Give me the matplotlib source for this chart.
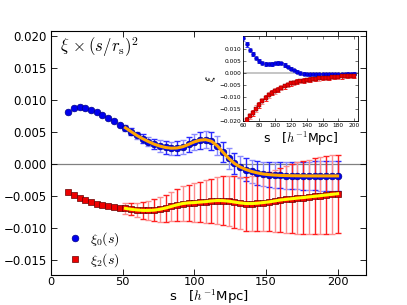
import numpy as np
import matplotlib
matplotlib.use("Agg")
import matplotlib.pyplot as plt
from matplotlib.ticker import FuncFormatter

plt.rcParams['mathtext.fontset'] = 'cm'
plt.rcParams['font.family'] = ['DejaVu Sans']

# ---------------- main panel data (units of 1e-3) ----------------
s = [12, 16, 20, 24, 28, 32, 36, 40, 44, 48, 52, 56, 60, 64, 68, 72, 76, 80, 84, 88,
     92, 96, 100, 104, 108, 112, 116, 120, 124, 128, 132, 136, 140, 144, 148, 152,
     156, 160, 164, 168, 172, 176, 180, 184, 188, 192, 196, 200]
xi0_s2 = [8.18, 8.70, 8.85, 8.75, 8.45, 8.07, 7.67, 7.20, 6.67, 6.16, 5.65, 5.05, 4.45,
          3.95, 3.50, 3.10, 2.80, 2.58, 2.47, 2.50, 2.70, 3.05, 3.45, 3.72, 3.80, 3.55,
          2.85, 1.85, 0.90, 0.10, -0.45, -0.85, -1.15, -1.38, -1.55, -1.65, -1.72,
          -1.77, -1.80, -1.82, -1.83, -1.84, -1.85, -1.85, -1.85, -1.85, -1.85, -1.85]
xi2_s2 = [-4.37, -4.88, -5.35, -5.66, -5.92, -6.18, -6.39, -6.55, -6.70, -6.80, -6.90,
          -7.05, -7.15, -7.22, -7.22, -7.18, -7.05, -6.85, -6.60, -6.35, -6.15, -6.05,
          -6.00, -5.92, -5.85, -5.75, -5.68, -5.70, -5.78, -5.92, -6.05, -6.15, -6.15,
          -6.10, -6.00, -5.90, -5.75, -5.60, -5.50, -5.40, -5.30, -5.22, -5.12, -5.02,
          -4.92, -4.82, -4.72, -4.62]
# error bars for s >= 52
err_s = [52, 56, 60, 64, 68, 72, 76, 80, 84, 88, 92, 96, 100, 104, 108, 112, 116, 120,
         124, 128, 132, 136, 140, 144, 148, 152, 156, 160, 164, 168, 172, 176, 180, 184,
         188, 192, 196, 200]
err0 = [0.45, 0.52, 0.60, 0.68, 0.75, 0.82, 0.90, 0.95, 1.00, 1.05, 1.10, 1.18, 1.25,
        1.30, 1.35, 1.40, 1.45, 1.52, 1.60, 1.65, 1.70, 1.75, 1.80, 1.85, 1.90, 1.95,
        2.00, 2.02, 2.05, 2.08, 2.10, 2.15, 2.20, 2.25, 2.30, 2.32, 2.35, 2.40]
err2 = [0.80, 0.95, 1.10, 1.30, 1.50, 1.70, 1.90, 2.10, 2.30, 2.50, 2.70, 2.85, 3.00,
        3.15, 3.30, 3.50, 3.65, 3.80, 3.90, 4.00, 4.10, 4.20, 4.30, 4.40, 4.50, 4.60,
        4.80, 5.00, 5.20, 5.40, 5.60, 5.70, 5.80, 5.90, 6.00, 6.00, 6.10, 6.10]

# ---------------- inset data ----------------
s_in = [60, 64, 68, 72, 76, 80, 84, 88, 92, 96, 100, 104, 108, 112, 116, 120, 124, 128,
        132, 136, 140, 144, 148, 152, 156, 160, 164, 168, 172, 176, 180, 184, 188, 192,
        196, 200]
xi0_in = [0.0145, 0.0118, 0.0095, 0.0078, 0.0063, 0.0050, 0.0042, 0.0037, 0.0036,
          0.0037, 0.0039, 0.0040, 0.0039, 0.0034, 0.0026, 0.0018, 0.0011, 0.0005,
          0.0000, -0.0003, -0.0005, -0.0006, -0.0006, -0.0006, -0.0006, -0.0006,
          -0.0006, -0.0006, -0.0006, -0.0006, -0.0005, -0.0005, -0.0005, -0.0004,
          -0.0004, -0.0004]
xi2_in = [-0.0215, -0.0197, -0.0180, -0.0165, -0.0148, -0.0132, -0.0118, -0.0105,
          -0.0092, -0.0082, -0.0075, -0.0069, -0.0062, -0.0055, -0.0049, -0.0044,
          -0.0040, -0.0037, -0.0034, -0.0032, -0.0030, -0.0028, -0.0026, -0.0025,
          -0.0023, -0.0022, -0.0021, -0.0020, -0.0018, -0.0017, -0.0016, -0.0015,
          -0.0014, -0.0013, -0.0012, -0.0012]
err0_in = [0.0012, 0.0011, 0.0010, 0.0010, 0.0009, 0.0009, 0.0008, 0.0008, 0.0008,
           0.0008, 0.0008, 0.0008, 0.0008, 0.0008, 0.0007, 0.0007, 0.0007, 0.0007,
           0.0007, 0.0007, 0.0006, 0.0006, 0.0006, 0.0006, 0.0006, 0.0006, 0.0006,
           0.0006, 0.0006, 0.0006, 0.0006, 0.0006, 0.0006, 0.0006, 0.0006, 0.0006]
err2_in = [0.0014, 0.0014, 0.0013, 0.0013, 0.0013, 0.0012, 0.0012, 0.0012, 0.0012,
           0.0011, 0.0011, 0.0011, 0.0011, 0.0010, 0.0010, 0.0010, 0.0010, 0.0010,
           0.0009, 0.0009, 0.0009, 0.0009, 0.0009, 0.0009, 0.0009, 0.0009, 0.0009,
           0.0009, 0.0009, 0.0009, 0.0009, 0.0009, 0.0009, 0.0009, 0.0009, 0.0009]

sc = 1e-3
s_a = np.array(s)
x0 = np.array(xi0_s2) * sc
x2 = np.array(xi2_s2) * sc
es = np.array(err_s)
mask = s_a >= es[0]
e0 = np.array(err0) * sc
e2 = np.array(err2) * sc


def fmt3(v, pos):
    return ('%.3f' % v).replace('-', '\u2212')


fig = plt.figure(figsize=(4.07, 3.05), dpi=100)
ax = fig.add_axes([0.125, 0.1, 0.775, 0.8])

ax.axhline(0, color='gray', lw=0.9, zorder=1)

blue_cols = ['#8c8cff', '#2a2aff']
red_cols = ['#ff8c8c', '#ff2020']
for i in range(len(es)):
    ax.errorbar([es[i]], [x0[mask][i]], yerr=[e0[i]], fmt='none',
                ecolor=blue_cols[i % 2], elinewidth=1.0, capsize=2.2, capthick=1.0, zorder=2)
    ax.errorbar([es[i]], [x2[mask][i]], yerr=[e2[i]], fmt='none',
                ecolor=red_cols[i % 2], elinewidth=1.0, capsize=2.2, capthick=1.0, zorder=2)

ax.plot(s_a, x0, 'o', color='#0000ee', mec='#000088', mew=0.5, ms=4.8, zorder=3,
        label=r'$\xi_0(s)$')
ax.plot(s_a, x2, 's', color='#ee0000', mec='#660000', mew=0.5, ms=4.4, zorder=3,
        label=r'$\xi_2(s)$')
ax.plot(s_a[mask], x0[mask], '-', color='#ffa500', lw=2.2, zorder=4)
ax.plot(s_a[mask], x2[mask], '-', color='#ffff00', lw=2.2, zorder=4)

ax.set_xlim(0, 220)
ax.set_ylim(-0.0172, 0.0208)
ax.set_xticks([0, 50, 100, 150, 200])
ax.set_yticks([-0.015, -0.010, -0.005, 0.0, 0.005, 0.010, 0.015, 0.020])
ax.yaxis.set_major_formatter(FuncFormatter(fmt3))
ax.tick_params(direction='in', top=True, right=True, labelsize=8.5, length=4, width=0.6,
               pad=3)
ax.tick_params(axis='x', pad=1.5, labelsize=8.2)
for sp in ax.spines.values():
    sp.set_linewidth(0.8)
ax.set_xlabel(r's   [$h^{-1}$Mpc]', fontsize=9.5, va='bottom')
ax.xaxis.set_label_coords(0.5, -0.129)
ax.text(0.03, 0.93, r'$\xi\,\times(s/r_{\rm s})^2$', transform=ax.transAxes,
        fontsize=12, ha='left', va='center')
ax.legend(loc='lower left', bbox_to_anchor=(0.015, -0.03), frameon=False, fontsize=10,
          numpoints=1, handlelength=1.0, handletextpad=0.6, labelspacing=0.25)

# ---------------- inset ----------------
ai = fig.add_axes([0.598, 0.603, 0.282, 0.279])
ai.axhline(0, color='#bbbbbb', lw=1.2, zorder=1)
for i in range(len(s_in)):
    ai.errorbar([s_in[i]], [xi0_in[i]], yerr=[err0_in[i]], fmt='none',
                ecolor=blue_cols[i % 2], elinewidth=0.7, capsize=1.6, capthick=0.7, zorder=2)
    ai.errorbar([s_in[i]], [xi2_in[i]], yerr=[err2_in[i]], fmt='none',
                ecolor=red_cols[i % 2], elinewidth=0.7, capsize=1.6, capthick=0.7, zorder=2)
ai.plot(s_in, xi0_in, 'o', color='#0000ee', mec='#000088', mew=0.3, ms=2.8, zorder=3)
ai.plot(s_in, xi2_in, 's', color='#ee0000', mec='#660000', mew=0.3, ms=2.8, zorder=3)
ai.set_xlim(60, 205)
ai.set_ylim(-0.020, 0.0153)
ai.set_xticks([60, 80, 100, 120, 140, 160, 180, 200])
ai.set_yticks([-0.020, -0.015, -0.010, -0.005, 0.0, 0.005, 0.010])
ai.yaxis.set_major_formatter(FuncFormatter(fmt3))
ai.tick_params(direction='in', top=True, right=True, labelsize=4.2, length=2, width=0.4, pad=1.5)
for sp in ai.spines.values():
    sp.set_linewidth(0.6)
ai.set_ylabel(r'$\xi$', fontsize=8, labelpad=1)
ai.set_xlabel(r's   [$h^{-1}$Mpc]', fontsize=9, labelpad=1)

fig.savefig('out.png', dpi=100)
